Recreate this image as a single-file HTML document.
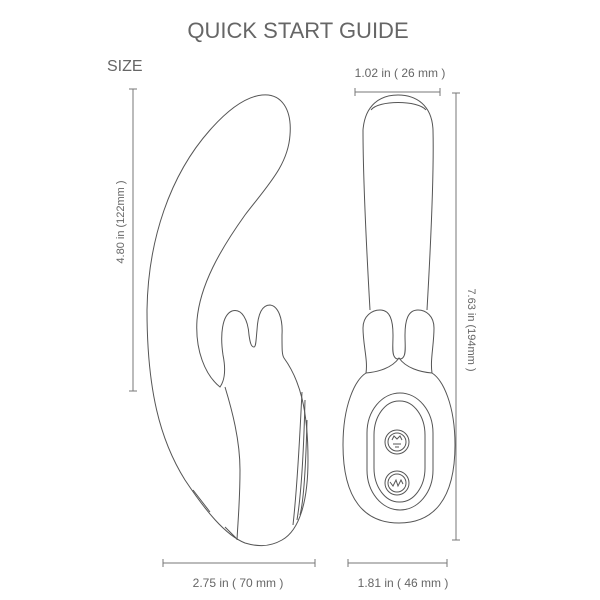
<!DOCTYPE html>
<html><head><style>
html,body{margin:0;padding:0;background:#fff;}
svg{display:block;}
text{font-family:"Liberation Sans",sans-serif;fill:#666;}
</style></head><body>
<svg width="600" height="600" viewBox="0 0 600 600" xmlns="http://www.w3.org/2000/svg">
<text x="298" y="38" font-size="22" text-anchor="middle">QUICK START GUIDE</text>
<text x="107" y="71" font-size="16">SIZE</text>
<g stroke="#777" stroke-width="1" fill="none">
<path d="M133 89V391M129 89H137M129 391H137"/>
<path d="M163 563H315M163 559V567M315 559V567"/>
<path d="M348 563H447M348 559V567M447 559V567"/>
<path d="M355 92H440M355 88V96M440 88V96"/>
<path d="M456 93V540M452 93H460M452 540H460"/>
</g>
<text font-size="11" transform="translate(124,222) rotate(-90)" text-anchor="middle">4.80 in (122mm )</text>
<text font-size="11" transform="translate(468,330) rotate(90)" text-anchor="middle">7.63 in (194mm )</text>
<text x="238" y="587" font-size="12" text-anchor="middle">2.75 in ( 70 mm )</text>
<text x="403" y="587" font-size="12" text-anchor="middle">1.81 in ( 46 mm )</text>
<text x="400" y="77" font-size="12" text-anchor="middle">1.02 in ( 26 mm )</text>
<g stroke="#555" stroke-width="1" fill="none">
<path d="M262 95C282 93 292 110 290 135C288 165 268 185 245 215C220 250 200 285 197 320C195 350 205 375 220 387C225 380 226 370 223 355C220 335 222 315 232 311C242 308 248 320 249 335C250 342 251 347 254 347C256 347 256 340 257 330C258 312 263 305 270 305C278 306 283 318 282 335C282 350 282 355 284 358C300 380 308 410 308 460C308 500 300 530 282 540C268 548 255 546 245 543C225 535 205 510 185 480C160 440 147 390 147 310C148 240 170 175 210 130C225 113 243 97 262 95Z"/>
<path d="M225 387C232 410 240 440 240 470C240 500 238 520 237 540"/>
<path d="M302 392C300 430 298 480 293 525M305 400C304 440 302 490 297 520M307 420C306 460 304 500 300 515"/>
<path d="M193 490L210 512M225 527L236 538"/>
<!-- front view -->
<path d="M370 310C366 240 363 170 363 130C365 105 380 95 398 95C416 95 432 105 433 130C434 170 431 240 427 310"/>
<path d="M371 110C378 100 418 100 426 110"/>
<path d="M366 373C368 360 363 345 363 328C363 316 372 310 380 310C390 310 393 320 393 335C393 345 392 352 394 356C396 360 399 359 399 358C399 359 402 360 404 356C406 352 405 345 405 335C405 320 408 310 418 310C426 310 434 316 434 328C434 345 430 360 432 373"/>
<path d="M366 373C355 380 343 405 343 445C343 500 365 523 399 523C433 523 455 500 455 445C455 405 443 380 432 373"/>
<path d="M366 373C378 372 392 368 399 358C406 368 420 372 432 373"/>
<rect x="367" y="393" width="66" height="117" rx="33" ry="40"/>
<rect x="374" y="401" width="51" height="101" rx="25" ry="34"/>
<circle cx="397" cy="442" r="12"/><circle cx="397" cy="442" r="9"/>
<circle cx="397" cy="483" r="12"/><circle cx="397" cy="483" r="9"/>
<path d="M392 440l2-4 3 3 3-3 2 4M393 444h8M395 447h4"/>
<path d="M390 482l3 4 3-6 2 6 3-6 2 4"/>
</g>
</svg>
</body></html>
